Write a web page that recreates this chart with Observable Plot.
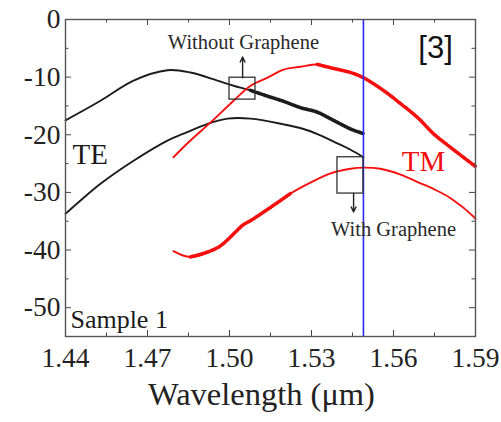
<!DOCTYPE html>
<html>
<head>
<meta charset="utf-8">
<script src="https://cdn.jsdelivr.net/npm/d3@7"></script>
<script src="https://cdn.jsdelivr.net/npm/@observablehq/plot@0.6"></script>
<style>
  html, body { margin: 0; padding: 0; background: #fff; }
  #chart svg { display: block; }
</style>
</head>
<body>
<div id="chart"></div>
<script>
// ---- data ----
const xTicks = [1.44, 1.47, 1.50, 1.53, 1.56, 1.59];
const xMinorTicks = [1.455, 1.485, 1.515, 1.545, 1.575];
const yTicks = [0, -10, -20, -30, -40, -50];
const yMinorTicks = [-5, -15, -25, -35, -45];
const xLabel = "Wavelength (μm)";

const teWithoutWl  = [1.440, 1.4528, 1.4649, 1.4773, 1.4857, 1.4956, 1.5015, 1.5077, 1.5139, 1.5198, 1.5260, 1.5322, 1.5381, 1.5443, 1.5490];
const teWithoutVal = [-17.5, -14.1, -10.6, -8.8, -9.2, -10.6, -11.5, -12.3, -13.3, -14.2, -15.3, -16.1, -17.5, -19.0, -19.8];

const teWithWl  = [1.440, 1.4455, 1.4528, 1.4649, 1.4773, 1.4832, 1.4920, 1.4993, 1.5077, 1.5198, 1.5271, 1.5322, 1.5381, 1.5443, 1.5490];
const teWithVal = [-33.7, -31.4, -28.5, -24.5, -21.0, -19.8, -18.1, -17.2, -17.2, -18.2, -19.0, -19.9, -21.2, -22.6, -23.9];

const tmWithoutWl  = [1.4795, 1.4857, 1.4930, 1.5015, 1.5077, 1.5139, 1.5198, 1.5260, 1.5322, 1.5381, 1.5443, 1.5490, 1.5563, 1.5626, 1.5688, 1.5746, 1.5809, 1.5900];
const tmWithoutVal = [-23.9, -21.0, -17.9, -14.1, -11.5, -10.1, -8.7, -8.2, -7.8, -8.5, -9.2, -10.1, -12.3, -14.6, -17.0, -19.8, -22.2, -25.5];

const tmWithWl  = [1.4795, 1.4857, 1.4956, 1.5051, 1.5077, 1.5150, 1.5223, 1.5296, 1.5370, 1.5443, 1.5490, 1.5552, 1.5626, 1.5688, 1.5746, 1.5809, 1.5893, 1.5900];
const tmWithVal = [-40.2, -41.2, -39.6, -35.6, -34.9, -32.6, -30.2, -28.3, -26.7, -25.9, -25.7, -25.9, -26.9, -28.2, -29.4, -31.0, -34.2, -34.6];

const seriesNames = ["TE without", "TE with", "TM without", "TM with"];
const markerWavelength = 1.549;

// annotation text
const annTexts = ["Without Graphene", "With Graphene", "TE", "TM", "Sample 1", "[3]"];
const annX = [1.5051, 1.5600, 1.4426, 1.5710, 1.4418, 1.5754];
const annY = [-4.0, -36.4, -23.4, -24.6, -52.0, -4.9];

// annotation boxes & arrows
const boxes = [
  {x1: 1.5000, x2: 1.5095, y1: -10.1, y2: -13.9},
  {x1: 1.5395, x2: 1.5490, y1: -23.9, y2: -30.2}
];
const arrows = [
  {x1: 1.5048, y1: -10.1, x2: 1.5048, y2: -6.5},
  {x1: 1.5454, y1: -30.2, x2: 1.5454, y2: -33.4}
];

// ---- build tidy table ----
const rows = [];
function add(name, wl, val) { wl.forEach((w, i) => rows.push({series: name, wl: w, val: val[i]})); }
add(seriesNames[0], teWithoutWl, teWithoutVal);
add(seriesNames[1], teWithWl, teWithVal);
add(seriesNames[2], tmWithoutWl, tmWithoutVal);
add(seriesNames[3], tmWithWl, tmWithVal);

// noisy sections (style only)
const noisy = rows.filter(d =>
  (d.series === "TE without" && d.wl >= 1.5051) ||
  (d.series === "TM without" && d.wl >= 1.5322) ||
  (d.series === "TM with" && d.wl >= 1.4857 && d.wl <= 1.5223));

const colorOf = s => s.startsWith("TE") ? "#1c1c1c" : "#f50f0f";
const serif = "Liberation Serif, Times New Roman, serif";

const W = 501, H = 422;
const mL = 65, mR = 26, mT = 19, mB = 86;
const frameH = H - mT - mB, frameW = W - mL - mR;
const majorLen = 6, minorLen = 3.5;

const ann = annTexts.map((t, i) => ({t, x: annX[i], y: annY[i]}));

const chart = Plot.plot({
  width: W, height: H,
  marginLeft: mL, marginRight: mR, marginTop: mT, marginBottom: mB,
  x: {domain: [1.44, 1.59]},
  y: {domain: [-55, 0]},
  style: {fontFamily: serif, background: "#fff", color: "#222"},
  marks: [
    // ticks inward on all four sides
    Plot.tickX(xTicks, {x: d => d, insetTop: frameH - majorLen, stroke: "#444"}),
    Plot.tickX(xTicks, {x: d => d, insetBottom: frameH - majorLen, stroke: "#444"}),
    Plot.tickX(xMinorTicks, {x: d => d, insetTop: frameH - minorLen, stroke: "#444"}),
    Plot.tickX(xMinorTicks, {x: d => d, insetBottom: frameH - minorLen, stroke: "#444"}),
    Plot.tickY(yTicks, {y: d => d, insetRight: frameW - majorLen, stroke: "#444"}),
    Plot.tickY(yTicks, {y: d => d, insetLeft: frameW - majorLen, stroke: "#444"}),
    Plot.tickY(yMinorTicks, {y: d => d, insetRight: frameW - minorLen, stroke: "#444"}),
    Plot.tickY(yMinorTicks, {y: d => d, insetLeft: frameW - minorLen, stroke: "#444"}),
    Plot.axisX({ticks: xTicks, tickSize: 0, tickPadding: 11, tickFormat: d3.format(".2f"),
      fontSize: 27.5, fontFamily: serif, label: null, fill: "#222"}),
    Plot.axisY({ticks: yTicks, tickSize: 0, tickPadding: 5, tickFormat: d => String(d),
      fontSize: 27.5, fontFamily: serif, label: null, fill: "#222"}),
    Plot.text([xLabel], {frameAnchor: "bottom", lineAnchor: "middle", dy: 58, dx: -9, fontSize: 32.5, fontFamily: serif, fill: "#222"}),
    // curves
    Plot.line(rows, {x: "wl", y: "val", z: "series", stroke: d => colorOf(d.series),
      strokeWidth: 1.9, curve: "catmull-rom"}),
    Plot.line(noisy, {x: "wl", y: "val", z: "series", stroke: d => colorOf(d.series),
      strokeWidth: 3.6, strokeDasharray: "1.6,1.1", curve: "catmull-rom"}),
    // marker line at 1.55 µm
    Plot.ruleX([markerWavelength], {stroke: "#2b2bf0", strokeWidth: 1.6}),
    // annotation boxes and arrows
    Plot.rect(boxes, {x1: "x1", x2: "x2", y1: "y1", y2: "y2", fill: "none", stroke: "#333", strokeWidth: 1.3}),
    Plot.arrow(arrows, {x1: "x1", y1: "y1", x2: "x2", y2: "y2", stroke: "#222", strokeWidth: 1.4, headLength: 6, headAngle: 50}),
    // labels
    Plot.text(ann.slice(0, 2), {x: "x", y: "y", text: "t", fontSize: 20.5, fontFamily: serif, fill: "#2a2a2a"}),
    Plot.text(ann.slice(2, 3), {x: "x", y: "y", text: "t", fontSize: 29, fontFamily: serif, fill: "#1a1a1a", textAnchor: "start"}),
    Plot.text(ann.slice(3, 4), {x: "x", y: "y", text: "t", fontSize: 29, fontFamily: serif, fill: "#f01010"}),
    Plot.text(ann.slice(4, 5), {x: "x", y: "y", text: "t", fontSize: 26, fontFamily: serif, fill: "#1a1a1a", textAnchor: "start"}),
    Plot.text(ann.slice(5, 6), {x: "x", y: "y", text: "t", fontSize: 31, fontFamily: "Liberation Sans, Arial, sans-serif", fill: "#111"}),
    Plot.frame({stroke: "#555", strokeWidth: 1.4})
  ]
});
document.getElementById("chart").appendChild(chart);
</script>
</body>
</html>
